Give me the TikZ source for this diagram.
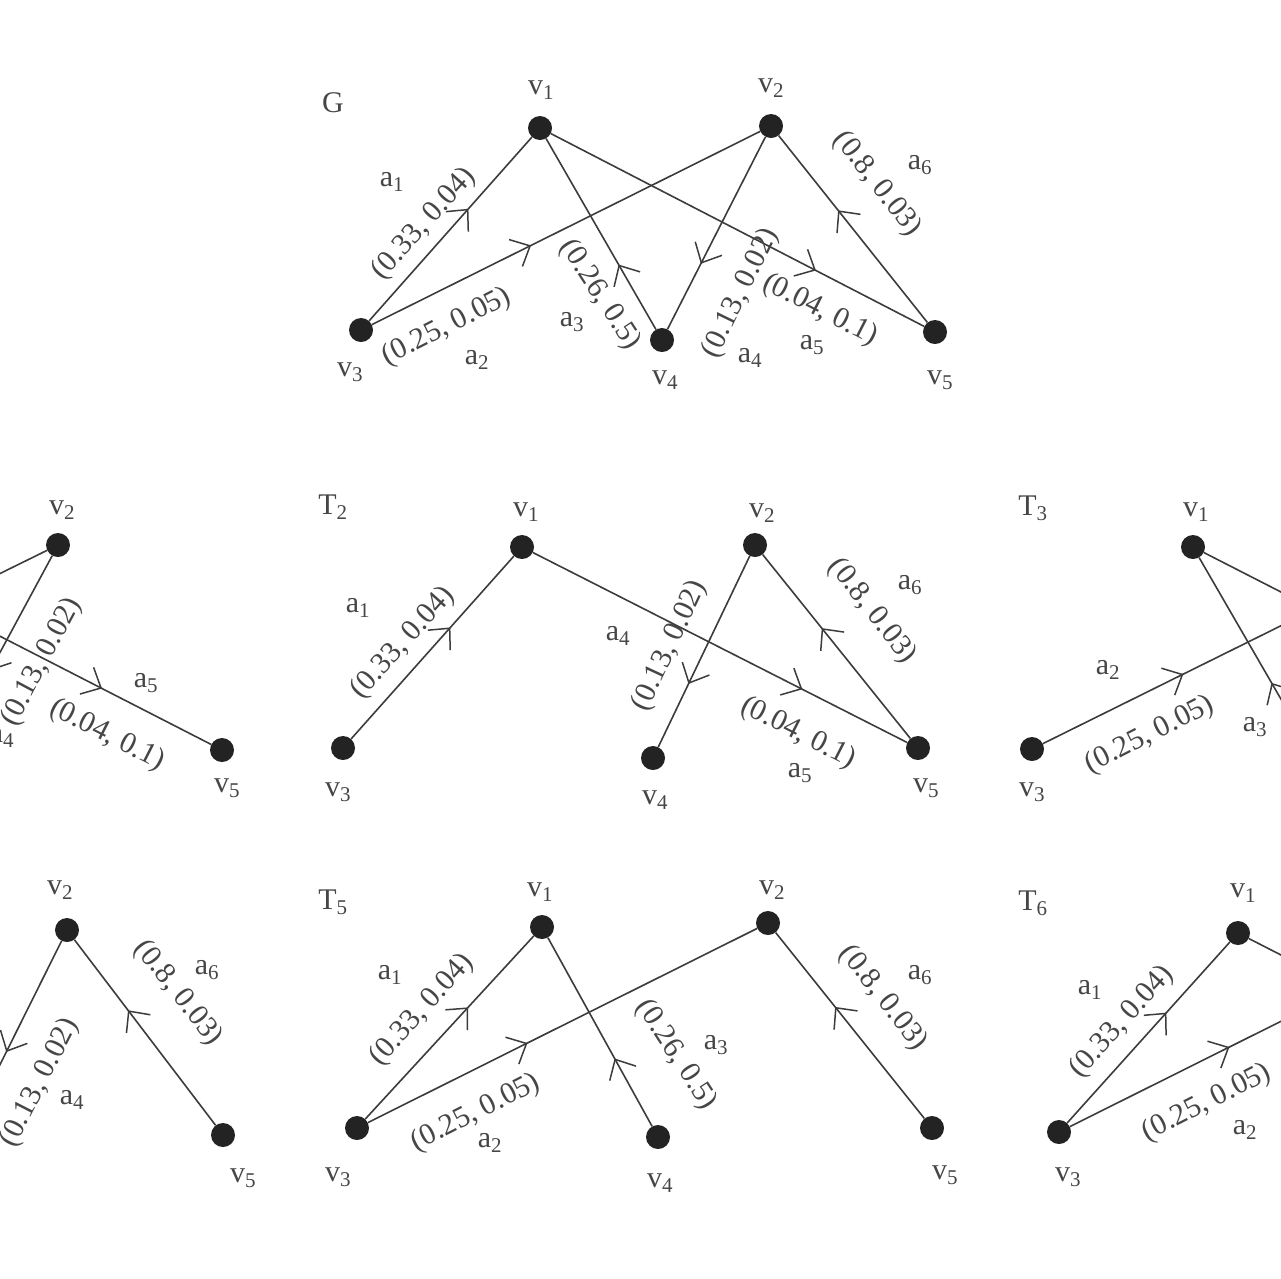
\documentclass[tikz,border=0pt]{standalone}
\usepackage{fontspec}
\setmainfont{Liberation Serif}
\usetikzlibrary{arrows.meta,decorations.markings}
\definecolor{linec}{RGB}{60,60,60}
\definecolor{textc}{RGB}{70,70,70}
\definecolor{dotc}{RGB}{35,35,35}
\newcommand{\vlab}[1]{v\textsubscript{#1}}
\newcommand{\alab}[1]{a\textsubscript{#1}}
\tikzset{
 vdot/.style={circle,fill=dotc,draw=none,inner sep=0pt,minimum size=24pt},
 lbl/.style={inner sep=0pt,text=textc,font=\fontsize{30}{34}\selectfont},
 conn/.style={draw=linec,line width=1.6pt},
 arr/.style={postaction={decorate,decoration={markings,mark=at position #1 with {\arrow[linec,line width=1.5pt]{Straight Barb[length=16pt,width=30pt]}}}}},
}
\begin{document}
\begin{tikzpicture}[x=1pt,y=-1pt]
\useasboundingbox (0,0) rectangle (1281,1278);
\fill[white] (0,0) rectangle (1281,1278);
\clip (0,0) rectangle (1281,1278);

% ---------------- G ----------------
\node[vdot] (G1) at (540,128) {};
\node[vdot] (G2) at (771,126) {};
\node[vdot] (G3) at (361,330) {};
\node[vdot] (G4) at (662,340) {};
\node[vdot] (G5) at (935,332) {};
\draw[conn,arr=0.61] (G3) -- (G1);
\draw[conn,arr=0.41] (G3) -- (G2);
\draw[conn,arr=0.34] (G4) -- (G1);
\draw[conn,arr=0.66] (G2) -- (G4);
\draw[conn,arr=0.71] (G1) -- (G5);
\draw[conn,arr=0.60] (G5) -- (G2);
\node[lbl] (Gt) at (333,103) {G};
\node[lbl] (Gl1) at (541,90) {\vlab{1}};
\node[lbl] (Gl2) at (771,88) {\vlab{2}};
\node[lbl] (Gl3) at (350,372) {\vlab{3}};
\node[lbl] (Gl4) at (665,380) {\vlab{4}};
\node[lbl] (Gl5) at (940,380) {\vlab{5}};
\node[lbl] (Ga1) at (392,182) {\alab{1}};
\node[lbl,rotate=48] (Gw1) at (424,224) {(0.33, 0.04)};
\node[lbl] (Ga2) at (477,360) {\alab{2}};
\node[lbl,rotate=27] (Gw2) at (447,327) {(0.25, 0.05)};
\node[lbl] (Ga3) at (572,322) {\alab{3}};
\node[lbl,rotate=-57] (Gw3) at (600,295) {(0.26, 0.5)};
\node[lbl] (Ga4) at (750,358) {\alab{4}};
\node[lbl,rotate=64] (Gw4) at (741,293) {(0.13, 0.02)};
\node[lbl] (Ga5) at (812,345) {\alab{5}};
\node[lbl,rotate=-27] (Gw5) at (820,310) {(0.04, 0.1)};
\node[lbl] (Ga6) at (920,165) {\alab{6}};
\node[lbl,rotate=-52] (Gw6) at (877,184) {(0.8, 0.03)};

% ---------------- T1 (cut at left) ----------------
\node[vdot] (A1) at (-176,546) {};
\node[vdot] (A2) at (58,545) {};
\node[vdot] (A3) at (-355,748) {};
\node[vdot] (A4) at (-57,758) {};
\node[vdot] (A5) at (222,750) {};
\draw[conn,arr=0.41] (A3) -- (A2);
\draw[conn,arr=0.60] (A2) -- (A4);
\draw[conn,arr=0.71] (A1) -- (A5);
\node[lbl] (Al2) at (62,510) {\vlab{2}};
\node[lbl] (Al5) at (227,788) {\vlab{5}};
\node[lbl,rotate=62] (Aw4) at (42,662) {(0.13, 0.02)};
\node[lbl] (Aa4) at (2,738) {\alab{4}};
\node[lbl] (Aa5) at (146,683) {\alab{5}};
\node[lbl,rotate=-27] (Aw5) at (107,735) {(0.04, 0.1)};

% ---------------- T2 ----------------
\node[vdot] (B1) at (522,547) {};
\node[vdot] (B2) at (755,545) {};
\node[vdot] (B3) at (343,748) {};
\node[vdot] (B4) at (653,758) {};
\node[vdot] (B5) at (918,748) {};
\draw[conn,arr=0.61] (B3) -- (B1);
\draw[conn,arr=0.67] (B2) -- (B4);
\draw[conn,arr=0.72] (B1) -- (B5);
\draw[conn,arr=0.60] (B5) -- (B2);
\node[lbl] (Bt) at (333,507) {T\textsubscript{2}};
\node[lbl] (Bl1) at (526,512) {\vlab{1}};
\node[lbl] (Bl2) at (762,513) {\vlab{2}};
\node[lbl] (Bl3) at (338,792) {\vlab{3}};
\node[lbl] (Bl4) at (655,800) {\vlab{4}};
\node[lbl] (Bl5) at (926,788) {\vlab{5}};
\node[lbl] (Ba1) at (358,608) {\alab{1}};
\node[lbl,rotate=48] (Bw1) at (403,643) {(0.33, 0.04)};
\node[lbl] (Ba4) at (618,636) {\alab{4}};
\node[lbl,rotate=65] (Bw4) at (670,646) {(0.13, 0.02)};
\node[lbl] (Ba5) at (800,773) {\alab{5}};
\node[lbl,rotate=-27] (Bw5) at (798,733) {(0.04, 0.1)};
\node[lbl] (Ba6) at (910,585) {\alab{6}};
\node[lbl,rotate=-52] (Bw6) at (872,611) {(0.8, 0.03)};

% ---------------- T3 (cut at right) ----------------
\node[vdot] (C1) at (1193,547) {};
\node[vdot] (C2) at (1444,545) {};
\node[vdot] (C3) at (1032,749) {};
\node[vdot] (C4) at (1315,758) {};
\node[vdot] (C5) at (1588,749) {};
\draw[conn,arr=0.36] (C3) -- (C2);
\draw[conn,arr=0.34] (C4) -- (C1);
\draw[conn,arr=0.71] (C1) -- (C5);
\node[lbl] (Ct) at (1033,508) {T\textsubscript{3}};
\node[lbl] (Cl1) at (1196,512) {\vlab{1}};
\node[lbl] (Cl3) at (1032,792) {\vlab{3}};
\node[lbl] (Ca2) at (1108,670) {\alab{2}};
\node[lbl,rotate=27] (Cw2) at (1150,735) {(0.25, 0.05)};
\node[lbl] (Ca3) at (1255,727) {\alab{3}};

% ---------------- T4 (cut at left) ----------------
\node[vdot] (D2) at (67,930) {};
\node[vdot] (D4) at (-36,1137) {};
\node[vdot] (D5) at (223,1135) {};
\draw[conn,arr=0.60] (D2) -- (D4);
\draw[conn,arr=0.62] (D5) -- (D2);
\node[lbl] (Dl2) at (60,890) {\vlab{2}};
\node[lbl] (Dl5) at (243,1178) {\vlab{5}};
\node[lbl,rotate=63] (Dw4) at (40,1083) {(0.13, 0.02)};
\node[lbl] (Da4) at (72,1100) {\alab{4}};
\node[lbl] (Da6) at (207,970) {\alab{6}};
\node[lbl,rotate=-52] (Dw6) at (178,993) {(0.8, 0.03)};

% ---------------- T5 ----------------
\node[vdot] (E1) at (542,927) {};
\node[vdot] (E2) at (768,923) {};
\node[vdot] (E3) at (357,1128) {};
\node[vdot] (E4) at (658,1137) {};
\node[vdot] (E5) at (932,1128) {};
\draw[conn,arr=0.61] (E3) -- (E1);
\draw[conn,arr=0.41] (E3) -- (E2);
\draw[conn,arr=0.36] (E4) -- (E1);
\draw[conn,arr=0.60] (E5) -- (E2);
\node[lbl] (Et) at (333,902) {T\textsubscript{5}};
\node[lbl] (El1) at (540,892) {\vlab{1}};
\node[lbl] (El2) at (772,890) {\vlab{2}};
\node[lbl] (El3) at (338,1177) {\vlab{3}};
\node[lbl] (El4) at (660,1183) {\vlab{4}};
\node[lbl] (El5) at (945,1175) {\vlab{5}};
\node[lbl] (Ea1) at (390,975) {\alab{1}};
\node[lbl,rotate=48] (Ew1) at (422,1010) {(0.33, 0.04)};
\node[lbl] (Ea2) at (490,1143) {\alab{2}};
\node[lbl,rotate=27] (Ew2) at (476,1113) {(0.25, 0.05)};
\node[lbl] (Ea3) at (716,1045) {\alab{3}};
\node[lbl,rotate=-57] (Ew3) at (676,1055) {(0.26, 0.5)};
\node[lbl] (Ea6) at (920,975) {\alab{6}};
\node[lbl,rotate=-52] (Ew6) at (883,998) {(0.8, 0.03)};

% ---------------- T6 (cut at right) ----------------
\node[vdot] (F1) at (1238,933) {};
\node[vdot] (F2) at (1470,927) {};
\node[vdot] (F3) at (1059,1132) {};
\node[vdot] (F5) at (1633,1135) {};
\draw[conn,arr=0.61] (F3) -- (F1);
\draw[conn,arr=0.41] (F3) -- (F2);
\draw[conn,arr=0.71] (F1) -- (F5);
\node[lbl] (Ft) at (1033,903) {T\textsubscript{6}};
\node[lbl] (Fl1) at (1243,893) {\vlab{1}};
\node[lbl] (Fl3) at (1068,1177) {\vlab{3}};
\node[lbl] (Fa1) at (1090,990) {\alab{1}};
\node[lbl,rotate=48] (Fw1) at (1122,1022) {(0.33, 0.04)};
\node[lbl] (Fa2) at (1245,1130) {\alab{2}};
\node[lbl,rotate=27] (Fw2) at (1207,1103) {(0.25, 0.05)};
\end{tikzpicture}
\end{document}
